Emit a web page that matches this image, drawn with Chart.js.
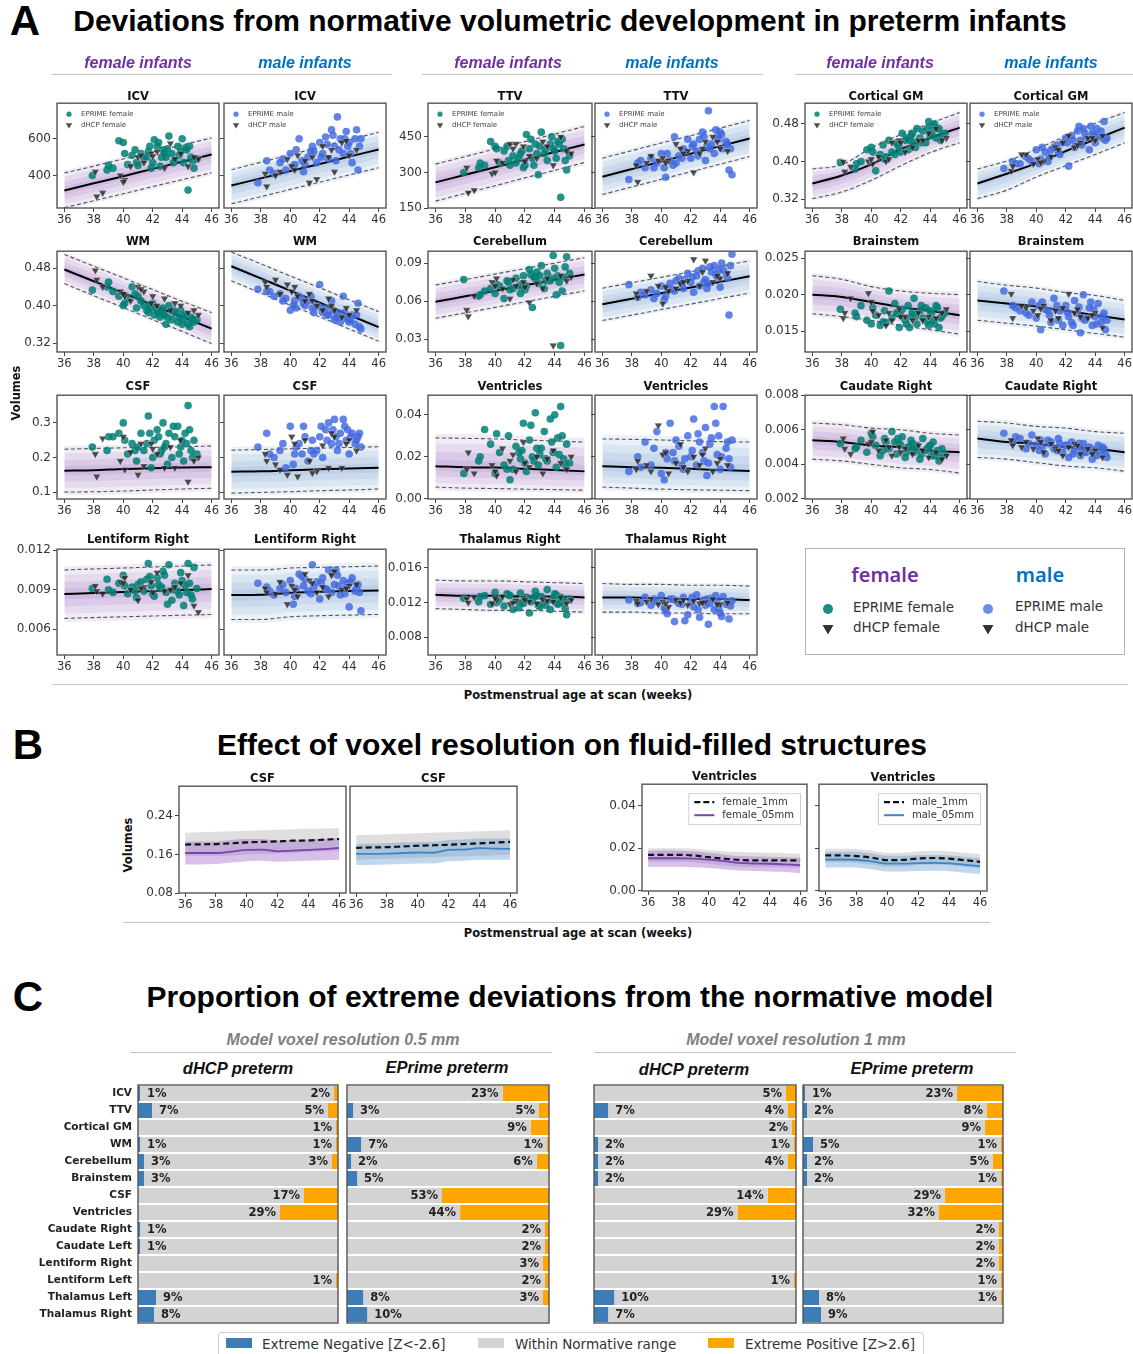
<!DOCTYPE html>
<html>
<head>
<meta charset="utf-8">
<title>Deviations from normative volumetric development in preterm infants</title>
<script src="https://cdn.jsdelivr.net/npm/chart.js@4.4.1/dist/chart.umd.min.js"></script>
<style>
  html, body { margin: 0; padding: 0; background: #fff; }
  body { position: relative; width: 1133px; height: 1354px; overflow: hidden; font-family: "DejaVu Sans", sans-serif; color: #111; }
  canvas { position: absolute; }
  .lbl { position: absolute; white-space: nowrap; }
  .rule { position: absolute; height: 0; border-top: 1.5px solid #c4c4c4; }
</style>
</head>
<body>
<script>
// ---------- data ----------
const knots = [36, 38, 40, 42, 44, 46];
const xTicks = [36, 38, 40, 42, 44, 46];

// PMA at scan (weeks) of the plotted subjects
const ageEprimeF = [37.9, 38.9, 39.3, 39.7, 40.0, 40.3, 40.6, 40.9, 41.2, 41.4, 41.7, 41.9, 42.1, 42.3, 42.5, 42.7, 42.9, 43.1, 43.3, 43.5, 43.7, 43.9, 44.1, 44.2, 44.4, 44.6, 44.8, 45.0, 41.0, 43.0,
  39.0, 40.1, 40.8, 41.6, 42.0, 42.4, 42.8, 43.4, 43.8, 44.0, 44.3, 44.5, 44.7, 41.8, 42.6];
const ageDhcpF = [38.1, 38.2, 38.6, 39.8, 40.1, 40.5, 41.0, 41.4, 41.9, 42.3, 42.8, 43.2, 43.9, 44.4, 45.1, 40.0, 41.2, 42.0, 43.5, 44.8];
const ageEprimeM = [37.8, 38.4, 38.9, 39.3, 39.7, 40.0, 40.3, 40.6, 40.9, 41.2, 41.5, 41.8, 42.0, 42.2, 42.4, 42.6, 42.8, 43.0, 43.2, 43.4, 43.6, 43.8, 44.0, 44.2, 44.4, 44.6, 44.8, 40.2, 41.6, 43.1,
  38.6, 39.5, 40.4, 41.0, 41.4, 42.1, 42.5, 42.9, 43.3, 43.7, 44.1, 44.5, 44.7, 40.8, 43.9];
const ageDhcpM = [38.3, 38.4, 39.3, 39.8, 40.1, 40.5, 41.0, 41.3, 41.8, 42.2, 42.6, 43.0, 43.5, 44.0, 44.5, 39.0, 40.3, 41.5, 42.8, 43.8];

// ICV
const icvF_mid = [318, 357, 396, 436, 475, 514];
const icvF_lo = [224, 262, 300, 339, 377, 415];
const icvF_hi = [413, 451, 490, 528, 567, 605];
const icvF_ep = [400, 430, 440, 590, 580, 460, 510, 470, 520, 490, 530, 440, 595, 560, 450, 540, 500, 615, 520, 480, 560, 530, 470, 550, 320, 500, 440, 490, 455, 545,
  455, 520, 540, 500, 470, 580, 520, 470, 510, 600, 540, 560, 480, 560, 500];
const icvF_dh = [420, 285, 305, 400, 375, 450, 500, 470, 520, 530, 440, 575, 520, 450, 490, 365, 510, 505, 490, 500];
const icvM_mid = [345, 384, 424, 463, 503, 542];
const icvM_lo = [245, 284, 324, 363, 403, 442];
const icvM_hi = [431, 472, 513, 554, 595, 636];
const icvM_ep = [360, 480, 410, 470, 430, 520, 460, 600, 420, 500, 560, 470, 580, 520, 610, 490, 650, 560, 720, 600, 520, 640, 580, 470, 600, 430, 600, 450, 530, 480,
  430, 490, 540, 460, 530, 500, 570, 620, 540, 600, 520, 650, 560, 480, 560];
const icvM_dh = [410, 340, 420, 490, 450, 510, 480, 360, 380, 560, 500, 420, 580, 510, 540, 400, 430, 500, 540, 590];
// TTV
const ttvF_mid = [258, 290, 322, 354, 386, 418];
const ttvF_lo = [179, 212, 244, 277, 309, 342];
const ttvF_hi = [335, 367, 399, 430, 462, 494];
const ttvF_ep = [300, 320, 330, 430, 410, 340, 390, 350, 370, 340, 380, 320, 460, 400, 360, 420, 290, 470, 380, 350, 420, 400, 360, 430, 195, 400, 310, 370, 330, 410,
  340, 400, 410, 360, 330, 440, 380, 400, 450, 390, 420, 440, 350, 390, 330];
const ttvF_dh = [320, 215, 225, 295, 350, 340, 420, 420, 410, 370, 360, 430, 330, 450, 380, 300, 400, 345, 410, 390];
const ttvM_mid = [282, 314, 346, 379, 411, 443];
const ttvM_lo = [207, 239, 271, 303, 335, 367];
const ttvM_hi = [360, 392, 424, 455, 487, 519];
const ttvM_ep = [270, 340, 320, 360, 340, 380, 280, 350, 450, 370, 400, 440, 360, 420, 390, 440, 470, 350, 560, 420, 380, 450, 470, 400, 430, 310, 290, 320, 390, 410,
  350, 320, 380, 340, 360, 410, 370, 450, 400, 480, 460, 420, 400, 330, 440];
const ttvM_dh = [330, 260, 370, 350, 360, 350, 420, 400, 390, 300, 380, 430, 450, 400, 390, 340, 340, 380, 400, 430];
// Cortical GM
const cgmF_mid = [0.353, 0.370, 0.394, 0.426, 0.450, 0.472];
const cgmF_lo = [0.321, 0.335, 0.360, 0.391, 0.419, 0.440];
const cgmF_hi = [0.384, 0.393, 0.429, 0.457, 0.481, 0.504];
const cgmF_ep = [0.398, 0.384, 0.400, 0.425, 0.430, 0.380, 0.415, 0.405, 0.445, 0.420, 0.440, 0.430, 0.460, 0.445, 0.425, 0.455, 0.440, 0.470, 0.450, 0.465, 0.440, 0.485, 0.460, 0.475, 0.450, 0.470, 0.455, 0.460, 0.410, 0.430,
  0.395, 0.420, 0.435, 0.415, 0.420, 0.450, 0.460, 0.440, 0.470, 0.455, 0.480, 0.470, 0.445, 0.435, 0.445];
const cgmF_dh = [0.399, 0.378, 0.389, 0.400, 0.395, 0.410, 0.400, 0.440, 0.445, 0.420, 0.430, 0.445, 0.460, 0.470, 0.450, 0.405, 0.405, 0.440, 0.445, 0.445];
const cgmM_mid = [0.353, 0.374, 0.396, 0.422, 0.447, 0.472];
const cgmM_lo = [0.321, 0.339, 0.367, 0.391, 0.415, 0.440];
const cgmM_hi = [0.384, 0.401, 0.426, 0.454, 0.481, 0.504];
const cgmM_ep = [0.385, 0.400, 0.395, 0.410, 0.400, 0.425, 0.405, 0.420, 0.410, 0.430, 0.420, 0.440, 0.450, 0.390, 0.455, 0.430, 0.465, 0.445, 0.470, 0.450, 0.425, 0.460, 0.440, 0.455, 0.465, 0.485, 0.450, 0.395, 0.415, 0.435,
  0.395, 0.405, 0.430, 0.425, 0.435, 0.440, 0.445, 0.475, 0.460, 0.475, 0.470, 0.450, 0.445, 0.400, 0.455];
const cgmM_dh = [0.380, 0.390, 0.415, 0.395, 0.405, 0.400, 0.410, 0.430, 0.440, 0.455, 0.430, 0.440, 0.450, 0.445, 0.455, 0.415, 0.398, 0.425, 0.435, 0.450];
// WM
const wmF_mid = [0.477, 0.452, 0.427, 0.401, 0.376, 0.351];
const wmF_lo = [0.447, 0.421, 0.396, 0.370, 0.345, 0.319];
const wmF_hi = [0.509, 0.484, 0.459, 0.434, 0.409, 0.385];
const wmF_ep = [0.433, 0.440, 0.430, 0.420, 0.400, 0.415, 0.440, 0.395, 0.410, 0.400, 0.385, 0.395, 0.380, 0.390, 0.375, 0.395, 0.360, 0.400, 0.370, 0.385, 0.365, 0.390, 0.370, 0.380, 0.360, 0.375, 0.365, 0.370, 0.420, 0.375,
  0.450, 0.405, 0.425, 0.390, 0.405, 0.385, 0.380, 0.390, 0.375, 0.360, 0.380, 0.355, 0.370, 0.400, 0.385];
const wmF_dh = [0.475, 0.455, 0.440, 0.430, 0.420, 0.410, 0.440, 0.430, 0.405, 0.400, 0.415, 0.390, 0.400, 0.385, 0.380, 0.425, 0.435, 0.420, 0.405, 0.390];
const wmM_mid = [0.484, 0.458, 0.432, 0.406, 0.380, 0.354];
const wmM_lo = [0.453, 0.427, 0.401, 0.376, 0.350, 0.324];
const wmM_hi = [0.514, 0.489, 0.463, 0.438, 0.412, 0.387];
const wmM_ep = [0.435, 0.430, 0.420, 0.425, 0.415, 0.390, 0.410, 0.420, 0.405, 0.410, 0.395, 0.400, 0.445, 0.385, 0.395, 0.380, 0.410, 0.370, 0.385, 0.365, 0.420, 0.375, 0.365, 0.380, 0.360, 0.405, 0.350, 0.400, 0.385, 0.375,
  0.430, 0.410, 0.395, 0.400, 0.420, 0.395, 0.380, 0.390, 0.375, 0.385, 0.370, 0.380, 0.355, 0.415, 0.370];
const wmM_dh = [0.450, 0.440, 0.425, 0.445, 0.430, 0.420, 0.410, 0.425, 0.400, 0.390, 0.415, 0.390, 0.375, 0.380, 0.390, 0.455, 0.440, 0.410, 0.400, 0.395];
// Cerebellum
const cbF_mid = [0.0595, 0.0638, 0.0681, 0.0725, 0.0768, 0.0811];
const cbF_lo = [0.0465, 0.0508, 0.0551, 0.0595, 0.0638, 0.0681];
const cbF_hi = [0.0727, 0.0770, 0.0813, 0.0857, 0.0900, 0.0943];
const cbF_ep = [0.077, 0.064, 0.068, 0.070, 0.066, 0.072, 0.062, 0.075, 0.070, 0.078, 0.066, 0.080, 0.072, 0.085, 0.055, 0.078, 0.074, 0.088, 0.070, 0.082, 0.076, 0.096, 0.065, 0.080, 0.025, 0.079, 0.095, 0.082, 0.069, 0.080,
  0.065, 0.073, 0.076, 0.072, 0.069, 0.081, 0.083, 0.076, 0.078, 0.086, 0.075, 0.068, 0.087, 0.073, 0.079];
const cbF_dh = [0.053, 0.048, 0.064, 0.075, 0.078, 0.070, 0.062, 0.072, 0.075, 0.059, 0.074, 0.070, 0.025, 0.080, 0.079, 0.072, 0.077, 0.071, 0.078, 0.076];
const cbM_mid = [0.0575, 0.0619, 0.0663, 0.0708, 0.0752, 0.0796];
const cbM_lo = [0.0447, 0.0490, 0.0534, 0.0577, 0.0621, 0.0664];
const cbM_hi = [0.0702, 0.0745, 0.0788, 0.0832, 0.0875, 0.0918];
const cbM_ep = [0.073, 0.063, 0.065, 0.069, 0.066, 0.072, 0.064, 0.074, 0.068, 0.078, 0.070, 0.082, 0.075, 0.067, 0.080, 0.072, 0.086, 0.077, 0.074, 0.083, 0.088, 0.079, 0.071, 0.085, 0.082, 0.049, 0.097, 0.061, 0.077, 0.070,
  0.067, 0.062, 0.071, 0.076, 0.073, 0.079, 0.084, 0.075, 0.087, 0.081, 0.090, 0.078, 0.088, 0.069, 0.084];
const cbM_dh = [0.066, 0.063, 0.080, 0.072, 0.058, 0.068, 0.070, 0.074, 0.076, 0.093, 0.072, 0.092, 0.075, 0.078, 0.082, 0.068, 0.071, 0.075, 0.083, 0.080];
// Brainstem
const bsF_mid = [0.0200, 0.0197, 0.0190, 0.0183, 0.0178, 0.0172];
const bsF_lo = [0.0174, 0.0170, 0.0165, 0.0158, 0.0152, 0.0146];
const bsF_hi = [0.0226, 0.0221, 0.0211, 0.0205, 0.0202, 0.0200];
const bsF_ep = [0.0180, 0.0175, 0.0185, 0.0165, 0.0160, 0.0172, 0.0158, 0.0178, 0.0205, 0.0168, 0.0175, 0.0155, 0.0180, 0.0165, 0.0185, 0.0170, 0.0195, 0.0160, 0.0178, 0.0168, 0.0182, 0.0158, 0.0175, 0.0165, 0.0185, 0.0155, 0.0170, 0.0175, 0.0162, 0.0170,
  0.0170, 0.0182, 0.0163, 0.0188, 0.0172, 0.0160, 0.0176, 0.0185, 0.0163, 0.0178, 0.0160, 0.0182, 0.0168, 0.0174, 0.0155];
const bsF_dh = [0.0168, 0.0175, 0.0195, 0.0202, 0.0178, 0.0172, 0.0158, 0.0165, 0.0180, 0.0170, 0.0165, 0.0175, 0.0170, 0.0168, 0.0180, 0.0190, 0.0175, 0.0170, 0.0165, 0.0175];
const bsM_mid = [0.0192, 0.0188, 0.0184, 0.0178, 0.0172, 0.0166];
const bsM_lo = [0.0165, 0.0161, 0.0157, 0.0152, 0.0147, 0.0142];
const bsM_hi = [0.0218, 0.0213, 0.0209, 0.0203, 0.0199, 0.0192];
const bsM_ep = [0.0205, 0.0185, 0.0178, 0.0175, 0.0190, 0.0168, 0.0152, 0.0180, 0.0172, 0.0195, 0.0165, 0.0158, 0.0185, 0.0170, 0.0162, 0.0192, 0.0175, 0.0148, 0.0200, 0.0168, 0.0182, 0.0158, 0.0170, 0.0188, 0.0162, 0.0175, 0.0165, 0.0185, 0.0178, 0.0168,
  0.0182, 0.0172, 0.0190, 0.0162, 0.0185, 0.0176, 0.0158, 0.0183, 0.0165, 0.0190, 0.0160, 0.0170, 0.0152, 0.0178, 0.0180];
const bsM_dh = [0.0201, 0.0168, 0.0182, 0.0178, 0.0172, 0.0185, 0.0165, 0.0178, 0.0182, 0.0201, 0.0175, 0.0170, 0.0168, 0.0175, 0.0155, 0.0185, 0.0181, 0.0168, 0.0180, 0.0172];
// CSF
const csfF_mid = [0.162, 0.163, 0.167, 0.169, 0.171, 0.172];
const csfF_lo = [0.100, 0.101, 0.103, 0.106, 0.109, 0.111];
const csfF_hi = [0.224, 0.226, 0.228, 0.229, 0.231, 0.233];
const csfF_ep = [0.23, 0.22, 0.26, 0.27, 0.30, 0.21, 0.24, 0.19, 0.27, 0.22, 0.32, 0.17, 0.25, 0.28, 0.21, 0.30, 0.24, 0.27, 0.20, 0.26, 0.29, 0.23, 0.19, 0.27, 0.35, 0.22, 0.25, 0.21, 0.23, 0.18,
  0.26, 0.25, 0.22, 0.24, 0.20, 0.26, 0.23, 0.29, 0.21, 0.25, 0.24, 0.28, 0.20, 0.27, 0.22];
const csfF_dh = [0.21, 0.145, 0.255, 0.19, 0.165, 0.215, 0.15, 0.175, 0.24, 0.21, 0.17, 0.23, 0.25, 0.13, 0.20, 0.26, 0.24, 0.225, 0.17, 0.19];
const csfM_mid = [0.159, 0.160, 0.163, 0.166, 0.168, 0.170];
const csfM_lo = [0.097, 0.099, 0.101, 0.104, 0.106, 0.109];
const csfM_hi = [0.221, 0.223, 0.225, 0.227, 0.229, 0.231];
const csfM_ep = [0.23, 0.27, 0.20, 0.22, 0.17, 0.29, 0.21, 0.24, 0.29, 0.19, 0.25, 0.22, 0.26, 0.20, 0.28, 0.30, 0.24, 0.31, 0.22, 0.27, 0.31, 0.25, 0.21, 0.27, 0.24, 0.26, 0.23, 0.18, 0.21, 0.26,
  0.21, 0.24, 0.23, 0.26, 0.22, 0.29, 0.25, 0.28, 0.24, 0.29, 0.26, 0.25, 0.27, 0.21, 0.28];
const csfM_dh = [0.21, 0.19, 0.165, 0.15, 0.26, 0.145, 0.25, 0.19, 0.16, 0.235, 0.17, 0.26, 0.17, 0.25, 0.22, 0.18, 0.24, 0.155, 0.27, 0.24];
// Ventricles
const venF_mid = [0.0155, 0.0150, 0.0148, 0.0142, 0.0136, 0.0130];
const venF_lo = [0.0055, 0.0050, 0.0048, 0.0045, 0.0043, 0.0040];
const venF_hi = [0.0290, 0.0288, 0.0285, 0.0280, 0.0275, 0.0270];
const venF_ep = [0.012, 0.018, 0.033, 0.026, 0.012, 0.022, 0.016, 0.030, 0.014, 0.025, 0.019, 0.036, 0.013, 0.028, 0.020, 0.041, 0.016, 0.024, 0.032, 0.018, 0.038, 0.022, 0.015, 0.029, 0.044, 0.019, 0.026, 0.017, 0.009, 0.021,
  0.020, 0.031, 0.014, 0.022, 0.017, 0.035, 0.024, 0.019, 0.027, 0.040, 0.021, 0.030, 0.016, 0.023, 0.018];
const venF_dh = [0.014, 0.022, 0.012, 0.016, 0.011, 0.024, 0.018, 0.013, 0.027, 0.015, 0.020, 0.012, 0.023, 0.017, 0.020, 0.013, 0.021, 0.017, 0.019, 0.014];
const venM_mid = [0.0155, 0.0150, 0.0147, 0.0142, 0.0137, 0.0132];
const venM_lo = [0.0055, 0.0050, 0.0045, 0.0042, 0.0040, 0.0038];
const venM_hi = [0.0285, 0.0283, 0.0280, 0.0276, 0.0272, 0.0270];
const venM_ep = [0.013, 0.020, 0.027, 0.016, 0.032, 0.012, 0.022, 0.036, 0.018, 0.025, 0.014, 0.030, 0.020, 0.038, 0.016, 0.027, 0.022, 0.034, 0.017, 0.029, 0.044, 0.021, 0.014, 0.044, 0.024, 0.019, 0.028, 0.009, 0.019, 0.011,
  0.015, 0.024, 0.019, 0.028, 0.016, 0.023, 0.031, 0.018, 0.026, 0.036, 0.020, 0.027, 0.015, 0.022, 0.030];
const venM_dh = [0.014, 0.018, 0.013, 0.035, 0.021, 0.012, 0.017, 0.026, 0.013, 0.020, 0.016, 0.024, 0.013, 0.019, 0.016, 0.016, 0.022, 0.015, 0.021, 0.017];
// Caudate Right
const cauF_mid = [0.0054, 0.0053, 0.0051, 0.0050, 0.0048, 0.0047];
const cauF_lo = [0.0043, 0.0042, 0.0040, 0.0038, 0.0037, 0.0035];
const cauF_hi = [0.0064, 0.0063, 0.0061, 0.0060, 0.0058, 0.0057];
const cauF_ep = [0.0052, 0.0049, 0.0054, 0.0047, 0.0058, 0.0051, 0.0045, 0.0055, 0.0049, 0.0059, 0.0046, 0.0052, 0.0056, 0.0044, 0.0050, 0.0054, 0.0047, 0.0051, 0.0043, 0.0055, 0.0048, 0.0050, 0.0045, 0.0053, 0.0047, 0.0042, 0.0049, 0.0046, 0.0053, 0.0049,
  0.0050, 0.0056, 0.0048, 0.0053, 0.0051, 0.0047, 0.0052, 0.0046, 0.0049, 0.0051, 0.0045, 0.0048, 0.0044, 0.0055, 0.0050];
const cauF_dh = [0.0055, 0.0049, 0.0046, 0.0052, 0.0059, 0.0048, 0.0054, 0.0045, 0.0050, 0.0049, 0.0046, 0.0051, 0.0044, 0.0047, 0.0045, 0.0053, 0.0050, 0.0047, 0.0048, 0.0043];
const cauM_mid = [0.0055, 0.0053, 0.0052, 0.0050, 0.0049, 0.0047];
const cauM_lo = [0.0044, 0.0043, 0.0041, 0.0039, 0.0038, 0.0036];
const cauM_hi = [0.0065, 0.0064, 0.0062, 0.0061, 0.0059, 0.0058];
const cauM_ep = [0.0058, 0.0053, 0.0055, 0.0049, 0.0057, 0.0051, 0.0054, 0.0046, 0.0052, 0.0049, 0.0055, 0.0047, 0.0051, 0.0044, 0.0053, 0.0048, 0.0050, 0.0045, 0.0052, 0.0047, 0.0050, 0.0043, 0.0048, 0.0051, 0.0046, 0.0049, 0.0044, 0.0048, 0.0052, 0.0049,
  0.0056, 0.0052, 0.0050, 0.0053, 0.0048, 0.0051, 0.0046, 0.0052, 0.0047, 0.0049, 0.0045, 0.0050, 0.0046, 0.0054, 0.0047];
const cauM_dh = [0.0054, 0.0051, 0.0053, 0.0049, 0.0055, 0.0047, 0.0052, 0.0049, 0.0045, 0.0050, 0.0052, 0.0046, 0.0049, 0.0048, 0.0044, 0.0050, 0.0053, 0.0048, 0.0051, 0.0046];
// Lentiform Right
const lenF_mid = [0.00868, 0.00875, 0.00883, 0.00890, 0.00898, 0.00905];
const lenF_lo = [0.00683, 0.00689, 0.00695, 0.00701, 0.00707, 0.00713];
const lenF_hi = [0.01050, 0.01058, 0.01065, 0.01073, 0.01080, 0.01088];
const lenF_ep = [0.0091, 0.0098, 0.0088, 0.0095, 0.0101, 0.0087, 0.0092, 0.0084, 0.0096, 0.0089, 0.0110, 0.0093, 0.0085, 0.0099, 0.0091, 0.0104, 0.0088, 0.0109, 0.0082, 0.0095, 0.0089, 0.0103, 0.0078, 0.0093, 0.0110, 0.0086, 0.0107, 0.0091, 0.0094, 0.0079,
  0.0090, 0.0093, 0.0089, 0.0098, 0.0087, 0.0094, 0.0101, 0.0090, 0.0086, 0.0097, 0.0088, 0.0095, 0.0083, 0.0100, 0.0092];
const lenF_dh = [0.0093, 0.0089, 0.0087, 0.0096, 0.0099, 0.0090, 0.0082, 0.0092, 0.0096, 0.0103, 0.0089, 0.0090, 0.0095, 0.0101, 0.0073, 0.0095, 0.0091, 0.0088, 0.0092, 0.0078];
const lenM_mid = [0.00860, 0.00862, 0.00878, 0.00885, 0.00890, 0.00895];
const lenM_lo = [0.00675, 0.00675, 0.00695, 0.00703, 0.00708, 0.00713];
const lenM_hi = [0.01050, 0.01050, 0.01065, 0.01070, 0.01075, 0.01080];
const lenM_ep = [0.0095, 0.0092, 0.0086, 0.0091, 0.0088, 0.0097, 0.0085, 0.0102, 0.0093, 0.0089, 0.0109, 0.0096, 0.0083, 0.0099, 0.0091, 0.0105, 0.0088, 0.0094, 0.0101, 0.0086, 0.0097, 0.0092, 0.0077, 0.0099, 0.0089, 0.0094, 0.0074, 0.0079, 0.0092, 0.0105,
  0.0089, 0.0094, 0.0091, 0.0098, 0.0087, 0.0095, 0.0090, 0.0103, 0.0093, 0.0087, 0.0096, 0.0091, 0.0088, 0.0100, 0.0095];
const lenM_dh = [0.0091, 0.0088, 0.0096, 0.0079, 0.0093, 0.0085, 0.0102, 0.0097, 0.0088, 0.0092, 0.0085, 0.0104, 0.0090, 0.0093, 0.0094, 0.0087, 0.0090, 0.0095, 0.0101, 0.0091];
// Thalamus Right
const thaF_mid = [0.0129, 0.0128, 0.0128, 0.0127, 0.0127, 0.0126];
const thaF_lo = [0.0113, 0.0112, 0.0111, 0.0111, 0.0110, 0.0109];
const thaF_hi = [0.0146, 0.0145, 0.0145, 0.0144, 0.0143, 0.0142];
const thaF_ep = [0.0125, 0.0121, 0.0128, 0.0118, 0.0132, 0.0124, 0.0116, 0.0129, 0.0112, 0.0122, 0.0131, 0.0119, 0.0126, 0.0108, 0.0123, 0.0133, 0.0117, 0.0127, 0.0121, 0.0135, 0.0112, 0.0124, 0.0129, 0.0118, 0.0126, 0.0121, 0.0106, 0.0124, 0.0128, 0.0115,
  0.0127, 0.0120, 0.0130, 0.0114, 0.0125, 0.0121, 0.0128, 0.0117, 0.0123, 0.0130, 0.0119, 0.0125, 0.0113, 0.0120, 0.0126];
const thaF_dh = [0.0124, 0.0120, 0.0126, 0.0119, 0.0123, 0.0127, 0.0118, 0.0122, 0.0125, 0.0121, 0.0119, 0.0124, 0.0121, 0.0126, 0.0123, 0.0125, 0.0120, 0.0123, 0.0122, 0.0119];
const thaM_mid = [0.0126, 0.0126, 0.0125, 0.0124, 0.0124, 0.0123];
const thaM_lo = [0.0109, 0.0109, 0.0108, 0.0108, 0.0107, 0.0107];
const thaM_hi = [0.0142, 0.0141, 0.0141, 0.0140, 0.0140, 0.0139];
const thaM_ep = [0.0123, 0.0119, 0.0126, 0.0117, 0.0121, 0.0128, 0.0111, 0.0124, 0.0098, 0.0119, 0.0126, 0.0106, 0.0121, 0.0115, 0.0129, 0.0103, 0.0122, 0.0117, 0.0095, 0.0125, 0.0112, 0.0121, 0.0108, 0.0127, 0.0118, 0.0101, 0.0122, 0.0114, 0.0099, 0.0124,
  0.0120, 0.0124, 0.0107, 0.0122, 0.0118, 0.0126, 0.0112, 0.0123, 0.0119, 0.0128, 0.0104, 0.0121, 0.0116, 0.0124, 0.0113];
const thaM_dh = [0.0122, 0.0119, 0.0124, 0.0118, 0.0121, 0.0115, 0.0123, 0.0120, 0.0117, 0.0122, 0.0119, 0.0121, 0.0124, 0.0118, 0.0120, 0.0121, 0.0119, 0.0123, 0.0120, 0.0118];

// y tick labels per structure
const icvTicks = [400, 600];
const ttvTicks = [150, 300, 450];
const cgmTicks = [0.32, 0.40, 0.48];
const wmTicks = [0.32, 0.40, 0.48];
const cbTicks = [0.03, 0.06, 0.09];
const bsTicks = [0.015, 0.020, 0.025];
const csfTicks = [0.1, 0.2, 0.3];
const venTicks = [0.00, 0.02, 0.04];
const cauTicks = [0.002, 0.004, 0.006, 0.008];
const lenTicks = [0.006, 0.009, 0.012];
const thaTicks = [0.008, 0.012, 0.016];

// panel B: 1 mm vs 0.5 mm models
const bKnots = [36, 37, 38, 39, 40, 41, 42, 43, 44, 45, 46];
const csfF_1mm = [0.1805, 0.181, 0.1815, 0.183, 0.185, 0.186, 0.187, 0.1886, 0.189, 0.1906, 0.192];
const csfF_1mmLo = [0.156, 0.157, 0.157, 0.158, 0.160, 0.161, 0.162, 0.163, 0.164, 0.166, 0.167];
const csfF_1mmHi = [0.205, 0.206, 0.207, 0.208, 0.209, 0.210, 0.211, 0.212, 0.213, 0.214, 0.215];
const csfF_05 = [0.163, 0.163, 0.163, 0.166, 0.1695, 0.170, 0.1665, 0.168, 0.1695, 0.171, 0.1735];
const csfF_05Lo = [0.139, 0.139, 0.140, 0.143, 0.146, 0.147, 0.145, 0.146, 0.147, 0.148, 0.149];
const csfF_05Hi = [0.187, 0.187, 0.187, 0.190, 0.192, 0.192, 0.189, 0.190, 0.191, 0.192, 0.194];
const csfM_1mm = [0.1736, 0.1745, 0.175, 0.1765, 0.178, 0.179, 0.180, 0.1815, 0.183, 0.1845, 0.186];
const csfM_1mmLo = [0.149, 0.150, 0.151, 0.152, 0.153, 0.154, 0.155, 0.156, 0.157, 0.158, 0.160];
const csfM_1mmHi = [0.200, 0.201, 0.202, 0.203, 0.204, 0.205, 0.206, 0.207, 0.208, 0.209, 0.210];
const csfM_05 = [0.161, 0.161, 0.1615, 0.163, 0.164, 0.1635, 0.1695, 0.170, 0.173, 0.172, 0.1715];
const csfM_05Lo = [0.138, 0.138, 0.139, 0.140, 0.141, 0.141, 0.146, 0.147, 0.149, 0.149, 0.149];
const csfM_05Hi = [0.182, 0.182, 0.183, 0.185, 0.186, 0.186, 0.190, 0.191, 0.193, 0.193, 0.193];
const venF_1mm = [0.0168, 0.0168, 0.0168, 0.0165, 0.0157, 0.0150, 0.0144, 0.0142, 0.0142, 0.0142, 0.0142];
const venF_1mmLo = [0.0135, 0.0135, 0.0135, 0.0132, 0.0125, 0.0118, 0.0112, 0.0110, 0.0110, 0.0109, 0.0108];
const venF_1mmHi = [0.0199, 0.0199, 0.0199, 0.0197, 0.0190, 0.0185, 0.0181, 0.0180, 0.0178, 0.0175, 0.0173];
const venF_05 = [0.0152, 0.0152, 0.0152, 0.0150, 0.0145, 0.0138, 0.0130, 0.0127, 0.0126, 0.0123, 0.0119];
const venF_05Lo = [0.0112, 0.0112, 0.0112, 0.0110, 0.0106, 0.0100, 0.0094, 0.0092, 0.0090, 0.0087, 0.0082];
const venF_05Hi = [0.0188, 0.0188, 0.0187, 0.0184, 0.0178, 0.0170, 0.0162, 0.0160, 0.0159, 0.0157, 0.0155];
const venM_1mm = [0.0165, 0.0165, 0.0162, 0.0155, 0.0143, 0.0144, 0.0151, 0.0153, 0.0150, 0.0143, 0.0135];
const venM_1mmLo = [0.0133, 0.0133, 0.0130, 0.0123, 0.0112, 0.0113, 0.0119, 0.0121, 0.0119, 0.0112, 0.0105];
const venM_1mmHi = [0.0197, 0.0197, 0.0195, 0.0188, 0.0177, 0.0178, 0.0184, 0.0186, 0.0184, 0.0178, 0.0172];
const venM_05 = [0.0146, 0.0146, 0.0145, 0.0137, 0.0127, 0.0127, 0.0129, 0.0130, 0.0128, 0.0121, 0.0115];
const venM_05Lo = [0.0109, 0.0109, 0.0108, 0.0100, 0.0090, 0.0090, 0.0092, 0.0093, 0.0091, 0.0084, 0.0078];
const venM_05Hi = [0.0183, 0.0183, 0.0182, 0.0174, 0.0164, 0.0164, 0.0166, 0.0167, 0.0165, 0.0159, 0.0153];

// panel C: % of subjects with extreme deviations
const structures = ['ICV', 'TTV', 'Cortical GM', 'WM', 'Cerebellum', 'Brainstem', 'CSF', 'Ventricles', 'Caudate Right', 'Caudate Left', 'Lentiform Right', 'Lentiform Left', 'Thalamus Left', 'Thalamus Right'];
const dhcp05Neg = [1, 7, 0, 1, 3, 3, 0, 0, 1, 1, 0, 0, 9, 8];
const dhcp05Pos = [2, 5, 1, 1, 3, 0, 17, 29, 0, 0, 0, 1, 0, 0];
const eprime05Neg = [0, 3, 0, 7, 2, 5, 0, 0, 0, 0, 0, 0, 8, 10];
const eprime05Pos = [23, 5, 9, 1, 6, 0, 53, 44, 2, 2, 3, 2, 3, 0];
const dhcp1Neg = [0, 7, 0, 2, 2, 2, 0, 0, 0, 0, 0, 0, 10, 7];
const dhcp1Pos = [5, 4, 2, 1, 4, 0, 14, 29, 0, 0, 0, 1, 0, 0];
const eprime1Neg = [1, 2, 0, 5, 2, 2, 0, 0, 0, 0, 0, 0, 8, 9];
const eprime1Pos = [23, 8, 9, 1, 5, 1, 29, 32, 2, 2, 2, 1, 1, 0];

// ---------- colours ----------
const TEAL = 'rgba(0,128,118,0.85)';
const ROYAL = 'rgba(65,105,225,0.82)';
const DARK = 'rgba(35,35,35,0.8)';
const PURPLE = '#7030a0';
const BLUE = '#0070c0';

// ---------- page helpers ----------
function txt(x, y, s, css, anchor, rot) {
  const d = document.createElement('div');
  d.className = 'lbl';
  d.textContent = s;
  const tx = anchor === 'l' ? '0' : '-50%';
  d.style.cssText += `left:${x}px;top:${y}px;transform:translate(${tx},-50%)${rot ? ' rotate(-90deg)' : ''};` + css;
  document.body.appendChild(d);
  return d;
}
function rule(x1, x2, y) {
  const d = document.createElement('div');
  d.className = 'rule';
  d.style.cssText += `left:${x1}px;top:${y}px;width:${x2 - x1}px;`;
  document.body.appendChild(d);
}
function canvasAt(l, t, w, h) {
  const c = document.createElement('canvas');
  c.width = w; c.height = h;
  c.style.left = l + 'px'; c.style.top = t + 'px';
  c.style.width = w + 'px'; c.style.height = h + 'px';
  document.body.appendChild(c);
  return c;
}
function marker(x, y, shape, color) {
  const s = shape === 'circle'
    ? `<circle cx="7" cy="7" r="5" fill="${color}"/>`
    : `<polygon points="1.5,3 12.5,3 7,12.5" fill="${color}"/>`;
  const d = document.createElement('div');
  d.style.cssText = `position:absolute;left:${x - 7}px;top:${y - 7}px;width:14px;height:14px;`;
  d.innerHTML = `<svg width="14" height="14">${s}</svg>`;
  document.body.appendChild(d);
}

// ---------- chart plugins ----------
const frame = {
  id: 'frame',
  afterDraw(chart, args, o) {
    const {ctx, chartArea: a} = chart;
    ctx.save();
    ctx.strokeStyle = o.color || '#555';
    ctx.lineWidth = o.width || 1.4;
    ctx.strokeRect(a.left, a.top, a.right - a.left, a.bottom - a.top);
    ctx.restore();
  }
};

const innerLegend = {
  id: 'innerLegend',
  afterDatasetsDraw(chart, args, o) {
    if (!o.items) return;
    const {ctx, chartArea: a} = chart;
    ctx.save();
    ctx.font = o.font;
    const tw = Math.max(...o.items.map(it => ctx.measureText(it.text).width));
    const w = o.textX + tw + 6, h = o.items.length * o.rowH + 5;
    const x0 = o.alignRight ? a.right - o.dx - w : a.left + o.dx;
    const y0 = a.top + o.dy;
    ctx.fillStyle = o.bg;
    ctx.fillRect(x0, y0, w, h);
    if (o.frame) { ctx.strokeStyle = o.frame; ctx.lineWidth = 1; ctx.strokeRect(x0 + 0.5, y0 + 0.5, w, h); }
    o.items.forEach((it, i) => {
      const cy = y0 + 2.5 + o.rowH * (i + 0.5);
      const mx = x0 + o.markX;
      if (it.line) {
        ctx.strokeStyle = it.line.color; ctx.lineWidth = it.line.width;
        ctx.setLineDash(it.line.dash || []);
        ctx.beginPath(); ctx.moveTo(mx - 10, cy); ctx.lineTo(mx + 10, cy); ctx.stroke();
        ctx.setLineDash([]);
      } else if (it.shape === 'circle') {
        ctx.fillStyle = it.color;
        ctx.beginPath(); ctx.arc(mx, cy, it.r, 0, Math.PI * 2); ctx.fill();
      } else {
        ctx.fillStyle = it.color;
        ctx.beginPath();
        ctx.moveTo(mx - it.r, cy - it.r * 0.6); ctx.lineTo(mx + it.r, cy - it.r * 0.6); ctx.lineTo(mx, cy + it.r);
        ctx.closePath(); ctx.fill();
      }
      ctx.fillStyle = o.color; ctx.textAlign = 'left'; ctx.textBaseline = 'middle';
      ctx.fillText(it.text, x0 + o.textX, cy);
    });
    ctx.restore();
  }
};

const pctLabels = {
  id: 'pctLabels',
  afterDatasetsDraw(chart, args, o) {
    if (!o.on) return;
    const {ctx} = chart;
    const negMeta = chart.getDatasetMeta(0), posMeta = chart.getDatasetMeta(2);
    const neg = chart.data.datasets[0].data, pos = chart.data.datasets[2].data;
    ctx.save();
    ctx.font = 'bold 11.5px "DejaVu Sans"';
    ctx.fillStyle = '#222';
    ctx.textBaseline = 'middle';
    neg.forEach((v, i) => {
      if (v > 0) {
        const el = negMeta.data[i];
        ctx.textAlign = 'left';
        ctx.fillText(v + '%', el.x + 7, el.y + 1);
      }
      if (pos[i] > 0) {
        const el = posMeta.data[i];
        ctx.textAlign = 'right';
        ctx.fillText(pos[i] + '%', el.base - 4, el.y + 1);
      }
    });
    ctx.restore();
  }
};

Chart.register(frame, innerLegend, pctLabels);
Chart.defaults.font.family = '"DejaVu Sans", sans-serif';
Chart.defaults.color = '#333';
Chart.defaults.animation = false;

// ---------- axes ----------
const PT = 8, PR = 10, XH = 20;

function pts(xs, ys) { return ys.map((y, i) => ({x: xs[i], y})); }
function curve(xs, ys, extra) {
  return Object.assign({type: 'line', data: pts(xs, ys), pointRadius: 0, borderWidth: 0,
    borderColor: 'transparent', fill: false, cubicInterpolationMode: 'monotone'}, extra);
}
function axisX(min, max) {
  return {type: 'linear', min, max,
    afterBuildTicks: s => { s.ticks = xTicks.map(v => ({value: v})); },
    afterFit: s => { s.height = XH; },
    grid: {drawOnChartArea: false, tickLength: 4, color: '#444'},
    border: {display: false},
    ticks: {font: {size: 11.5}, color: '#333', padding: 1, maxRotation: 0, autoSkip: false}};
}
function axisY(min, max, ticks, dec, yW, labels, marks) {
  return {type: 'linear', min, max,
    afterBuildTicks: s => { s.ticks = ticks.map(v => ({value: v})); },
    afterFit: s => { s.width = yW; },
    grid: {drawOnChartArea: false, tickLength: marks === false ? 0 : 4, color: '#444'},
    border: {display: false},
    ticks: {font: {size: 12}, color: '#333', padding: 2, callback: v => labels ? v.toFixed(dec) : ''}};
}

// ---------- panel A: normative model panels ----------
const bandFr = [1.15, 0.8, 0.5, 0.22];

function normPanel(p) {
  const yW = p.labels ? 50 : 6;
  const cv = canvasAt(p.x - yW, p.y - PT, p.w + yW + PR, p.h + PT + XH);
  const female = p.sex === 'F';
  const tint = female ? '128,70,170' : '70,130,190';
  const ds = [
    {data: pts(female ? ageDhcpF : ageDhcpM, p.dh), pointStyle: 'triangle', pointRotation: 180, pointRadius: 4.4,
      pointBackgroundColor: DARK, pointBorderColor: 'rgba(255,255,255,0.5)', pointBorderWidth: 0.6, order: 0},
    {data: pts(female ? ageEprimeF : ageEprimeM, p.ep), pointStyle: 'circle', pointRadius: 3.8,
      pointBackgroundColor: female ? TEAL : ROYAL, pointBorderWidth: 0, order: 1},
    curve(knots, p.mid, {borderColor: '#000', borderWidth: 2, order: 2}),
    curve(knots, p.hi, {borderColor: '#555', borderWidth: 1.1, borderDash: [4, 2.5], order: 3}),
    curve(knots, p.lo, {borderColor: '#555', borderWidth: 1.1, borderDash: [4, 2.5], order: 3})
  ];
  bandFr.forEach(f => {
    ds.push(curve(knots, p.mid.map((m, i) => m + f * (p.hi[i] - m)), {fill: '+1', backgroundColor: `rgba(${tint},0.11)`, order: 5}));
    ds.push(curve(knots, p.mid.map((m, i) => m - f * (m - p.lo[i])), {order: 5}));
  });
  const who = female ? 'female' : 'male';
  const legend = p.legend ? {
    items: [{text: 'EPRIME ' + who, shape: 'circle', color: female ? TEAL : ROYAL, r: 2.6},
            {text: 'dHCP ' + who, shape: 'tri', color: DARK, r: 3.2}],
    font: '7px "DejaVu Sans"', color: '#444', bg: 'rgba(255,255,255,0.85)',
    dx: 3, dy: 3, rowH: 11, markX: 9, textX: 21
  } : {};
  new Chart(cv, {
    type: 'scatter',
    data: {datasets: ds},
    options: {
      responsive: false, animation: false, devicePixelRatio: 1,
      layout: {padding: {top: PT, right: PR, left: 0, bottom: 0}},
      plugins: {legend: {display: false}, tooltip: {enabled: false}, frame: {color: '#555'}, innerLegend: legend},
      scales: {x: axisX(35.5, 46.5), y: axisY(p.range[0], p.range[1], p.ticks, p.dec, yW, p.labels)}
    }
  });
  txt(p.x + p.w / 2, p.titleY, p.title, 'font:bold 11.5px "DejaVu Sans";color:#111;');
}

const colX = [57, 224, 428, 595, 805, 970];
const colW = [162, 162, 164, 162, 162, 162];
const rowY = [102, 250, 394, 548];
const rowH = [106, 102, 105, 107];
const rowTitle = [96, 241, 386, 539];

function pair(row, grp, title, F, M, range, ticks, dec) {
  const common = {y: rowY[row], h: rowH[row], titleY: rowTitle[row], title, range, ticks, dec, legend: row === 0};
  normPanel(Object.assign({x: colX[grp * 2], w: colW[grp * 2], sex: 'F', labels: true}, common, F));
  normPanel(Object.assign({x: colX[grp * 2 + 1], w: colW[grp * 2 + 1], sex: 'M', labels: false}, common, M));
}

pair(0, 0, 'ICV', {mid: icvF_mid, lo: icvF_lo, hi: icvF_hi, ep: icvF_ep, dh: icvF_dh},
  {mid: icvM_mid, lo: icvM_lo, hi: icvM_hi, ep: icvM_ep, dh: icvM_dh}, [222, 795], icvTicks, 0);
pair(0, 1, 'TTV', {mid: ttvF_mid, lo: ttvF_lo, hi: ttvF_hi, ep: ttvF_ep, dh: ttvF_dh},
  {mid: ttvM_mid, lo: ttvM_lo, hi: ttvM_hi, ep: ttvM_ep, dh: ttvM_dh}, [150, 592], ttvTicks, 0);
pair(0, 2, 'Cortical GM', {mid: cgmF_mid, lo: cgmF_lo, hi: cgmF_hi, ep: cgmF_ep, dh: cgmF_dh},
  {mid: cgmM_mid, lo: cgmM_lo, hi: cgmM_hi, ep: cgmM_ep, dh: cgmM_dh}, [0.301, 0.524], cgmTicks, 2);
pair(1, 0, 'WM', {mid: wmF_mid, lo: wmF_lo, hi: wmF_hi, ep: wmF_ep, dh: wmF_dh},
  {mid: wmM_mid, lo: wmM_lo, hi: wmM_hi, ep: wmM_ep, dh: wmM_dh}, [0.301, 0.516], wmTicks, 2);
pair(1, 1, 'Cerebellum', {mid: cbF_mid, lo: cbF_lo, hi: cbF_hi, ep: cbF_ep, dh: cbF_dh},
  {mid: cbM_mid, lo: cbM_lo, hi: cbM_hi, ep: cbM_ep, dh: cbM_dh}, [0.0199, 0.0994], cbTicks, 2);
pair(1, 2, 'Brainstem', {mid: bsF_mid, lo: bsF_lo, hi: bsF_hi, ep: bsF_ep, dh: bsF_dh},
  {mid: bsM_mid, lo: bsM_lo, hi: bsM_hi, ep: bsM_ep, dh: bsM_dh}, [0.01216, 0.02595], bsTicks, 3);
pair(2, 0, 'CSF', {mid: csfF_mid, lo: csfF_lo, hi: csfF_hi, ep: csfF_ep, dh: csfF_dh},
  {mid: csfM_mid, lo: csfM_lo, hi: csfM_hi, ep: csfM_ep, dh: csfM_dh}, [0.08, 0.38], csfTicks, 1);
pair(2, 1, 'Ventricles', {mid: venF_mid, lo: venF_lo, hi: venF_hi, ep: venF_ep, dh: venF_dh},
  {mid: venM_mid, lo: venM_lo, hi: venM_hi, ep: venM_ep, dh: venM_dh}, [-0.0002, 0.0494], venTicks, 2);
pair(2, 2, 'Caudate Right', {mid: cauF_mid, lo: cauF_lo, hi: cauF_hi, ep: cauF_ep, dh: cauF_dh},
  {mid: cauM_mid, lo: cauM_lo, hi: cauM_hi, ep: cauM_ep, dh: cauM_dh}, [0.00199, 0.00801], cauTicks, 3);
pair(3, 0, 'Lentiform Right', {mid: lenF_mid, lo: lenF_lo, hi: lenF_hi, ep: lenF_ep, dh: lenF_dh},
  {mid: lenM_mid, lo: lenM_lo, hi: lenM_hi, ep: lenM_ep, dh: lenM_dh}, [0.00405, 0.01208], lenTicks, 3);
pair(3, 1, 'Thalamus Right', {mid: thaF_mid, lo: thaF_lo, hi: thaF_hi, ep: thaF_ep, dh: thaF_dh},
  {mid: thaM_mid, lo: thaM_lo, hi: thaM_hi, ep: thaM_ep, dh: thaM_dh}, [0.00594, 0.01817], thaTicks, 3);

// panel A texts
const headFont = 'font:italic bold 16px "Liberation Sans";';
txt(25, 21, 'A', 'font:bold 42px "Liberation Sans";color:#000;');
txt(570, 21, 'Deviations from normative volumetric development in preterm infants', 'font:bold 30px "Liberation Sans";color:#000;');
[[138, 305, 52, 392], [508, 672, 422, 763], [880, 1051, 795, 1133]].forEach(([fx, mx, l, r]) => {
  txt(fx, 63, 'female infants', headFont + 'color:' + PURPLE);
  txt(mx, 63, 'male infants', headFont + 'color:' + BLUE);
  rule(l, r, 74);
});
txt(16, 393, 'Volumes', 'font:bold 11.5px "DejaVu Sans";color:#111;', 'c', true);
rule(52, 1128, 684);
txt(578, 695, 'Postmenstrual age at scan (weeks)', 'font:bold 11.5px "DejaVu Sans";color:#111;');

// panel A legend box
const lb = document.createElement('div');
lb.style.cssText = 'position:absolute;left:805px;top:548px;width:318px;height:105px;border:1.5px solid #b3b3b3;';
document.body.appendChild(lb);
txt(885, 574, 'female', 'font:600 20px "Noto Sans";color:' + PURPLE);
txt(1040, 574, 'male', 'font:600 20px "Noto Sans";color:' + BLUE);
marker(828, 608, 'circle', 'rgb(26,140,128)');
marker(828, 628, 'tri', '#333');
marker(988, 608, 'circle', 'rgb(110,140,235)');
marker(988, 628, 'tri', '#333');
const legFont = 'font:13.5px "DejaVu Sans";color:#333;';
txt(853, 607, 'EPRIME female', legFont, 'l');
txt(853, 627, 'dHCP female', legFont, 'l');
txt(1015, 606, 'EPRIME male', legFont, 'l');
txt(1015, 627, 'dHCP male', legFont, 'l');

// ---------- panel B: voxel resolution ----------
function resPanel(p) {
  const yW = p.labels ? 44 : 6;
  const cv = canvasAt(p.x - yW, p.y - PT, p.w + yW + PR, p.h + PT + XH);
  const ds = [
    curve(bKnots, p.d1, {borderColor: '#111', borderWidth: 2.2, borderDash: [6, 3.5], order: 0}),
    curve(bKnots, p.d05, {borderColor: p.col, borderWidth: 1.8, order: 1}),
    curve(bKnots, p.hi05, {fill: '+1', backgroundColor: p.band, order: 2}),
    curve(bKnots, p.lo05, {order: 2}),
    curve(bKnots, p.hi1, {fill: '+1', backgroundColor: 'rgba(150,150,150,0.3)', order: 3}),
    curve(bKnots, p.lo1, {order: 3})
  ];
  const legend = p.legend ? {
    items: [{text: p.legend + '_1mm', line: {color: '#111', width: 2.2, dash: [6, 3]}},
            {text: p.legend + '_05mm', line: {color: p.col, width: 2}}],
    font: '10px "DejaVu Sans"', color: '#333', bg: '#fff', frame: '#cfcfcf',
    alignRight: true, dx: 7, dy: 9, rowH: 13, markX: 16, textX: 34
  } : {};
  new Chart(cv, {
    type: 'scatter',
    data: {datasets: ds},
    options: {
      responsive: false, animation: false, devicePixelRatio: 1,
      layout: {padding: {top: PT, right: PR, left: 0, bottom: 0}},
      plugins: {legend: {display: false}, tooltip: {enabled: false}, frame: {color: '#555'}, innerLegend: legend},
      scales: {x: axisX(35.6, 46.45), y: axisY(p.range[0], p.range[1], p.ticks, 2, yW, p.labels, p.marks)}
    }
  });
  txt(p.x + p.w / 2, p.titleY, p.title, 'font:bold 11.5px "DejaVu Sans";color:#111;');
}

const F_LINE = '#7b3fb0', F_BAND = 'rgba(150,90,200,0.38)';
const M_LINE = '#3a86c6', M_BAND = 'rgba(80,145,205,0.36)';
resPanel({x: 179, y: 785, w: 167, h: 108, titleY: 778, title: 'CSF', labels: true, range: [0.08, 0.3015], ticks: [0.08, 0.16, 0.24],
  d1: csfF_1mm, lo1: csfF_1mmLo, hi1: csfF_1mmHi, d05: csfF_05, lo05: csfF_05Lo, hi05: csfF_05Hi, col: F_LINE, band: F_BAND});
resPanel({x: 350, y: 785, w: 167, h: 108, titleY: 778, title: 'CSF', labels: false, marks: false, range: [0.08, 0.3015], ticks: [0.08, 0.16, 0.24],
  d1: csfM_1mm, lo1: csfM_1mmLo, hi1: csfM_1mmHi, d05: csfM_05, lo05: csfM_05Lo, hi05: csfM_05Hi, col: M_LINE, band: M_BAND});
resPanel({x: 642, y: 783, w: 165, h: 108, titleY: 776, title: 'Ventricles', labels: true, range: [-0.0002, 0.050], ticks: [0, 0.02, 0.04],
  d1: venF_1mm, lo1: venF_1mmLo, hi1: venF_1mmHi, d05: venF_05, lo05: venF_05Lo, hi05: venF_05Hi, col: F_LINE, band: F_BAND, legend: 'female'});
resPanel({x: 819, y: 783, w: 168, h: 108, titleY: 777, title: 'Ventricles', labels: false, range: [-0.0002, 0.050], ticks: [0, 0.02, 0.04],
  d1: venM_1mm, lo1: venM_1mmLo, hi1: venM_1mmHi, d05: venM_05, lo05: venM_05Lo, hi05: venM_05Hi, col: M_LINE, band: M_BAND, legend: 'male'});

txt(28, 745, 'B', 'font:bold 42px "Liberation Sans";color:#000;');
txt(572, 745, 'Effect of voxel resolution on fluid-filled structures', 'font:bold 30px "Liberation Sans";color:#000;');
txt(128, 845, 'Volumes', 'font:bold 11.5px "DejaVu Sans";color:#111;', 'c', true);
rule(123, 990, 922);
txt(578, 933, 'Postmenstrual age at scan (weeks)', 'font:bold 11.5px "DejaVu Sans";color:#111;');

// ---------- panel C: extreme deviations ----------
function barPanel(px, py, pw, ph, neg, pos, names) {
  const yW = names ? 118 : 0;
  const cv = canvasAt(px - yW - 2, py - 2, pw + yW + 4, ph + 4);
  const bar = {categoryPercentage: 0.88, barPercentage: 1, borderWidth: 0};
  new Chart(cv, {
    type: 'bar',
    data: {
      labels: structures,
      datasets: [
        Object.assign({data: neg, backgroundColor: '#3e7cb7'}, bar),
        Object.assign({data: neg.map((v, i) => 100 - v - pos[i]), backgroundColor: '#d3d3d3'}, bar),
        Object.assign({data: pos, backgroundColor: '#ffa500'}, bar)
      ]
    },
    options: {
      indexAxis: 'y', responsive: false, animation: false, devicePixelRatio: 1,
      layout: {padding: 2},
      plugins: {legend: {display: false}, tooltip: {enabled: false}, frame: {color: '#555'}, pctLabels: {on: true}},
      scales: {
        x: {stacked: true, min: 0, max: 100, display: false},
        y: {stacked: true, display: names,
          afterFit: s => { s.width = yW; s.paddingTop = 0; s.paddingBottom = 0; },
          grid: {display: false, drawTicks: false}, border: {display: false},
          ticks: {font: {size: 10.5, weight: 'bold'}, color: '#222', padding: 6, autoSkip: false}}
      }
    }
  });
}

barPanel(138, 1085, 200, 238, dhcp05Neg, dhcp05Pos, true);
barPanel(347, 1085, 202, 238, eprime05Neg, eprime05Pos, false);
barPanel(594, 1085, 202, 238, dhcp1Neg, dhcp1Pos, false);
barPanel(803, 1085, 200, 238, eprime1Neg, eprime1Pos, false);

txt(28, 997, 'C', 'font:bold 42px "Liberation Sans";color:#000;');
txt(570, 997, 'Proportion of extreme deviations from the normative model', 'font:bold 30px "Liberation Sans";color:#000;');
const resFont = 'font:italic bold 16px "Liberation Sans";color:#808080;';
txt(343, 1040, 'Model voxel resolution 0.5 mm', resFont);
txt(796, 1040, 'Model voxel resolution 1 mm', resFont);
rule(130, 552, 1052);
rule(594, 1016, 1052);
const subFont = 'font:italic bold 16.5px "Liberation Sans";color:#111;';
txt(238, 1068, 'dHCP preterm', subFont);
txt(447, 1067, 'EPrime preterm', subFont);
txt(694, 1069, 'dHCP preterm', subFont);
txt(912, 1068, 'EPrime preterm', subFont);

// legend for panel C
const cl = document.createElement('div');
cl.style.cssText = 'position:absolute;left:218px;top:1332px;width:704px;height:40px;border:1.5px solid #cfcfcf;border-radius:3px;';
document.body.appendChild(cl);
[['#3e7cb7', 226, 262, 'Extreme Negative [Z<-2.6]'], ['#d3d3d3', 478, 515, 'Within Normative range'], ['#ffa500', 708, 745, 'Extreme Positive [Z>2.6]']]
  .forEach(([c, rx, tx, s]) => {
    const r = document.createElement('div');
    r.style.cssText = `position:absolute;left:${rx}px;top:1338px;width:26px;height:10px;background:${c};`;
    document.body.appendChild(r);
    txt(tx, 1344, s, 'font:13.5px "DejaVu Sans";color:#333;', 'l');
  });
</script>
</body>
</html>
